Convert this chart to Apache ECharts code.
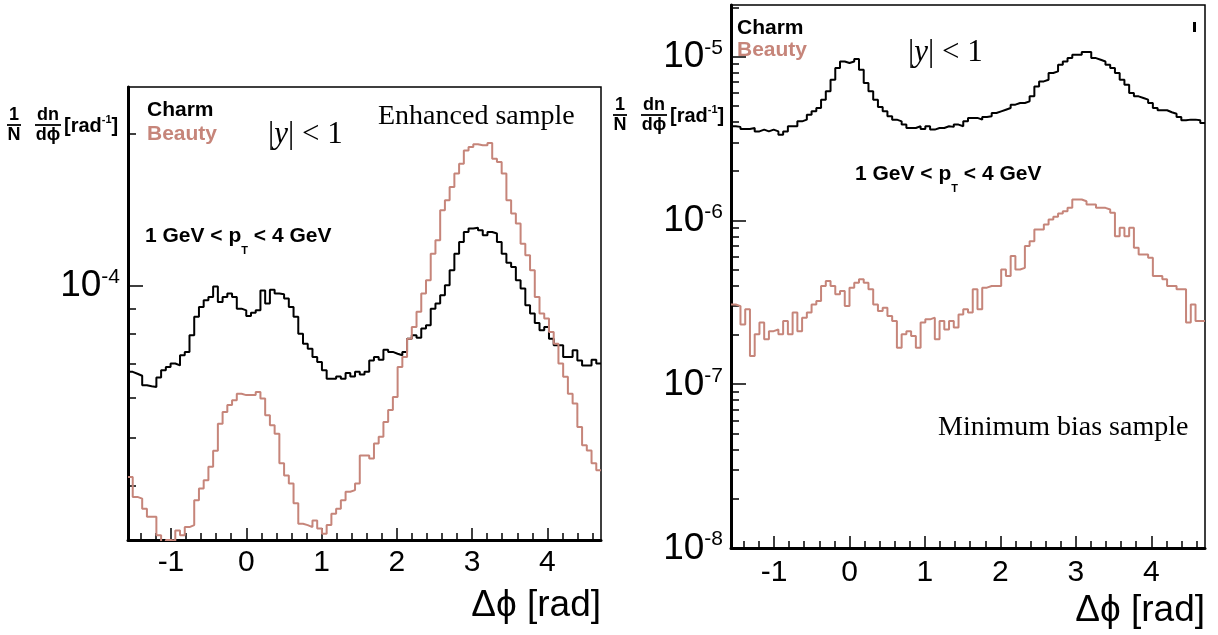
<!DOCTYPE html>
<html><head><meta charset="utf-8">
<script src="https://cdn.jsdelivr.net/npm/echarts@6/dist/echarts.min.js"></script>
<style>html,body{margin:0;padding:0;background:#fff}#c{width:1218px;height:635px}</style>
</head><body><div id="c"></div>
<script>
// ---------- data ----------
const PHI_MIN = -Math.PI / 2;
const PHI_MAX = 3 * Math.PI / 2;
const xTickValues = [-1, 0, 1, 2, 3, 4];
const xMinorTickValues = [-1.4, -1.2, -0.8, -0.6, -0.4, -0.2, 0.2, 0.4, 0.6, 0.8, 1.2, 1.4, 1.6, 1.8, 2.2, 2.4, 2.6, 2.8, 3.2, 3.4, 3.6, 3.8, 4.2, 4.4, 4.6];

const enhancedYMin = 3.13e-5, enhancedYMax = 2.47e-4;
const enhancedYLabels = [1e-4];
const enhancedYMinorTicks = [4e-5, 5e-5, 6e-5, 7e-5, 8e-5, 9e-5, 2e-4];

const mbYMin = 1e-8, mbYMax = 2.07e-5;
const mbYLabels = [1e-8, 1e-7, 1e-6, 1e-5];
const mbYMinorTicks = [2e-8, 3e-8, 4e-8, 5e-8, 6e-8, 7e-8, 8e-8, 9e-8,
  2e-7, 3e-7, 4e-7, 5e-7, 6e-7, 7e-7, 8e-7, 9e-7,
  2e-6, 3e-6, 4e-6, 5e-6, 6e-6, 7e-6, 8e-6, 9e-6, 2e-5];

// Enhanced sample (100 bins over [-pi/2, 3pi/2])
const enhancedCharm = [
  6.74e-5, 6.68e-5, 6.62e-5, 6.34e-5, 6.31e-5, 6.29e-5, 6.57e-5, 6.79e-5, 6.89e-5, 7.00e-5,
  6.94e-5, 7.27e-5, 7.38e-5, 7.96e-5, 8.66e-5, 9.06e-5, 9.34e-5, 9.48e-5, 9.95e-5, 9.27e-5,
  9.48e-5, 9.63e-5, 9.48e-5, 8.99e-5, 8.92e-5, 8.69e-5, 8.82e-5, 8.92e-5, 9.77e-5, 9.20e-5,
  9.80e-5, 9.63e-5, 9.60e-5, 9.41e-5, 9.06e-5, 8.66e-5, 8.02e-5, 7.66e-5, 7.49e-5, 7.21e-5,
  7.05e-5, 6.79e-5, 6.53e-5, 6.53e-5, 6.60e-5, 6.53e-5, 6.70e-5, 6.60e-5, 6.74e-5, 6.66e-5,
  6.74e-5, 7.10e-5, 7.21e-5, 7.12e-5, 7.45e-5, 7.38e-5, 7.32e-5, 7.27e-5, 7.38e-5, 7.84e-5,
  7.96e-5, 7.87e-5, 8.21e-5, 8.33e-5, 8.99e-5, 9.20e-5, 9.56e-5, 1.000e-4, 1.071e-4, 1.155e-4,
  1.218e-4, 1.275e-4, 1.295e-4, 1.300e-4, 1.285e-4, 1.256e-4, 1.275e-4, 1.266e-4, 1.218e-4, 1.155e-4,
  1.108e-4, 1.087e-4, 1.023e-4, 9.85e-5, 9.13e-5, 8.79e-5, 8.42e-5, 8.15e-5, 8.27e-5, 7.84e-5,
  7.61e-5, 7.61e-5, 7.21e-5, 7.21e-5, 7.44e-5, 7.10e-5, 6.94e-5, 6.94e-5, 7.12e-5, 7.00e-5
];
const enhancedBeauty = [
  4.17e-5, 3.81e-5, 3.78e-5, 3.61e-5, 3.48e-5, 3.48e-5, 3.20e-5, 3.10e-5, 3.13e-5, 3.12e-5,
  3.27e-5, 3.20e-5, 3.32e-5, 3.35e-5, 3.75e-5, 3.96e-5, 4.11e-5, 4.37e-5, 4.70e-5, 5.32e-5,
  5.61e-5, 5.79e-5, 5.92e-5, 6.10e-5, 6.06e-5, 6.06e-5, 6.06e-5, 6.15e-5, 5.97e-5, 5.53e-5,
  5.28e-5, 5.08e-5, 4.44e-5, 4.20e-5, 4.05e-5, 3.70e-5, 3.37e-5, 3.35e-5, 3.32e-5, 3.42e-5,
  3.30e-5, 3.22e-5, 3.35e-5, 3.53e-5, 3.61e-5, 3.75e-5, 3.90e-5, 3.93e-5, 4.05e-5, 4.60e-5,
  4.60e-5, 4.54e-5, 4.86e-5, 5.01e-5, 5.36e-5, 5.66e-5, 6.01e-5, 6.89e-5, 7.21e-5, 7.84e-5,
  8.27e-5, 8.86e-5, 9.63e-5, 1.023e-4, 1.155e-4, 1.228e-4, 1.408e-4, 1.474e-4, 1.566e-4, 1.664e-4,
  1.741e-4, 1.850e-4, 1.879e-4, 1.902e-4, 1.893e-4, 1.893e-4, 1.913e-4, 1.781e-4, 1.754e-4, 1.664e-4,
  1.474e-4, 1.387e-4, 1.325e-4, 1.209e-4, 1.147e-4, 1.071e-4, 9.48e-5, 8.79e-5, 8.59e-5, 8.08e-5,
  7.66e-5, 7.00e-5, 6.59e-5, 6.10e-5, 5.83e-5, 5.24e-5, 4.82e-5, 4.71e-5, 4.44e-5, 4.30e-5
];

// Minimum bias sample
const mbCharm = [
  3.76e-6, 3.73e-6, 3.62e-6, 3.62e-6, 3.67e-6, 3.50e-6, 3.59e-6, 3.50e-6, 3.59e-6, 3.50e-6,
  3.34e-6, 3.50e-6, 3.76e-6, 3.76e-6, 4.03e-6, 4.13e-6, 4.43e-6, 4.64e-6, 4.86e-6, 5.47e-6,
  6.15e-6, 7.24e-6, 8.53e-6, 9.36e-6, 9.15e-6, 9.36e-6, 9.68e-6, 8.33e-6, 6.91e-6, 6.15e-6,
  5.47e-6, 4.93e-6, 4.64e-6, 4.33e-6, 4.13e-6, 4.03e-6, 3.85e-6, 3.67e-6, 3.67e-6, 3.76e-6,
  3.62e-6, 3.76e-6, 3.59e-6, 3.67e-6, 3.67e-6, 3.76e-6, 3.73e-6, 3.85e-6, 3.76e-6, 4.03e-6,
  4.23e-6, 4.23e-6, 4.13e-6, 4.29e-6, 4.33e-6, 4.53e-6, 4.64e-6, 4.75e-6, 4.86e-6, 5.10e-6,
  5.22e-6, 5.22e-6, 5.34e-6, 5.73e-6, 6.59e-6, 7.07e-6, 7.24e-6, 7.95e-6, 8.14e-6, 8.94e-6,
  9.36e-6, 9.81e-6, 1.028e-5, 1.028e-5, 1.068e-5, 1.068e-5, 9.81e-6, 9.59e-6, 9.36e-6, 8.94e-6,
  8.53e-6, 7.95e-6, 7.24e-6, 6.75e-6, 6.00e-6, 5.73e-6, 5.60e-6, 5.47e-6, 5.22e-6, 4.86e-6,
  4.71e-6, 4.71e-6, 4.58e-6, 4.49e-6, 4.29e-6, 4.09e-6, 4.13e-6, 4.13e-6, 4.09e-6, 3.94e-6
];
const mbBeauty = [
  3.07e-7, 3.00e-7, 2.32e-7, 2.87e-7, 1.49e-7, 2.02e-7, 2.38e-7, 1.88e-7, 2.11e-7, 2.16e-7,
  2.02e-7, 2.43e-7, 2.02e-7, 2.74e-7, 2.11e-7, 2.55e-7, 2.74e-7, 3.07e-7, 3.22e-7, 3.98e-7,
  4.27e-7, 3.98e-7, 3.54e-7, 3.71e-7, 3.00e-7, 3.89e-7, 4.17e-7, 4.37e-7, 4.17e-7, 3.80e-7,
  3.07e-7, 2.80e-7, 2.93e-7, 2.61e-7, 2.43e-7, 1.67e-7, 2.02e-7, 2.11e-7, 1.97e-7, 1.67e-7,
  2.38e-7, 2.49e-7, 2.55e-7, 1.88e-7, 2.43e-7, 2.16e-7, 2.43e-7, 2.22e-7, 2.67e-7, 2.87e-7,
  2.74e-7, 3.80e-7, 2.87e-7, 3.89e-7, 3.98e-7, 3.98e-7, 3.98e-7, 5.02e-7, 4.58e-7, 6.06e-7,
  5.02e-7, 5.14e-7, 6.98e-7, 7.48e-7, 8.81e-7, 8.81e-7, 9.45e-7, 1.014e-6, 1.053e-6, 1.103e-6,
  1.140e-6, 1.195e-6, 1.343e-6, 1.343e-6, 1.312e-6, 1.252e-6, 1.252e-6, 1.195e-6, 1.195e-6, 1.167e-6,
  1.114e-6, 8.02e-7, 9.02e-7, 8.02e-7, 9.02e-7, 6.81e-7, 6.20e-7, 6.20e-7, 5.92e-7, 4.58e-7,
  4.58e-7, 4.37e-7, 3.98e-7, 3.98e-7, 3.80e-7, 3.80e-7, 2.38e-7, 3.07e-7, 2.43e-7, 2.43e-7
];

// ---------- styling ----------
const CHARM_COLOR = '#000000';
const BEAUTY_COLOR = '#c6857a';
const SANS = '"Liberation Sans", Arial, Helvetica, sans-serif';
const SERIF = '"Liberation Serif", "DejaVu Serif", serif';

function histData(vals) {
  const w = (PHI_MAX - PHI_MIN) / vals.length;
  const d = vals.map((v, i) => [PHI_MIN + i * w, v]);
  d.push([PHI_MAX, vals[vals.length - 1]]);
  return d;
}

function expLabel(v) {
  const e = Math.round(Math.log10(v));
  return '{b|10}{s|' + e + '}';
}
const expRich = {
  b: { fontSize: 37, fontFamily: SANS, color: '#000', verticalAlign: 'bottom', lineHeight: 38 },
  s: { fontSize: 21, fontFamily: SANS, color: '#000', verticalAlign: 'top', lineHeight: 21 }
};

function makeAxes(g, yMin, yMax, yLabels, yMinor, labelMargin) {
  const xAxes = [
    {
      gridIndex: g, type: 'value', min: PHI_MIN, max: PHI_MAX, position: 'bottom',
      axisLine: { show: true, onZero: false, lineStyle: { color: '#000', width: 3 } },
      axisTick: { show: true, inside: true, length: 12, customValues: xTickValues, lineStyle: { color: '#000', width: 1.5 } },
      axisLabel: { show: true, customValues: xTickValues, fontSize: 30, fontFamily: SANS, color: '#000', margin: labelMargin },
      splitLine: { show: false }
    },
    {
      gridIndex: g, type: 'value', min: PHI_MIN, max: PHI_MAX, position: 'bottom', offset: 0,
      axisLine: { show: false, onZero: false },
      axisTick: { show: true, inside: true, length: 7, customValues: xMinorTickValues, lineStyle: { color: '#000', width: 1.5 } },
      axisLabel: { show: false },
      splitLine: { show: false }
    }
  ];
  const yAxes = [
    {
      gridIndex: g, type: 'log', logBase: 10, min: yMin, max: yMax, position: 'left',
      axisLine: { show: true, onZero: false, lineStyle: { color: '#000', width: 3 } },
      axisTick: { show: true, inside: true, length: 15, customValues: yLabels, lineStyle: { color: '#000', width: 1.5 } },
      axisLabel: { show: true, customValues: yLabels, formatter: expLabel, rich: expRich, margin: 8 },
      splitLine: { show: false }
    },
    {
      gridIndex: g, type: 'log', logBase: 10, min: yMin, max: yMax, position: 'left', offset: 0,
      axisLine: { show: false, onZero: false },
      axisTick: { show: true, inside: true, length: 8, customValues: yMinor, lineStyle: { color: '#000', width: 1.5 } },
      axisLabel: { show: false },
      splitLine: { show: false }
    }
  ];
  return { xAxes, yAxes };
}

const left = makeAxes(0, enhancedYMin, enhancedYMax, enhancedYLabels, enhancedYMinorTicks, 8);
const right = makeAxes(1, mbYMin, mbYMax, mbYLabels, mbYMinorTicks, 10);

function histSeries(name, vals, color, xi, yi) {
  return {
    name, type: 'line', step: 'end', data: histData(vals), xAxisIndex: xi, yAxisIndex: yi,
    showSymbol: false, symbol: 'none', clip: true, silent: true,
    lineStyle: { color, width: 2 }, itemStyle: { color }
  };
}

function yTitle(x0, yc) {
  const f = 'bold 18px ' + SANS;
  return {
    type: 'group', silent: true, children: [
      { type: 'text', style: { text: '1', x: x0 + 7, y: yc - 10, font: f, fill: '#000', align: 'center', verticalAlign: 'middle' } },
      { type: 'line', shape: { x1: x0, y1: yc, x2: x0 + 14, y2: yc }, style: { stroke: '#000', lineWidth: 1.8 } },
      { type: 'text', style: { text: 'N', x: x0 + 7, y: yc + 10, font: f, fill: '#000', align: 'center', verticalAlign: 'middle' } },
      { type: 'text', style: { text: 'dn', x: x0 + 41, y: yc - 10, font: f, fill: '#000', align: 'center', verticalAlign: 'middle' } },
      { type: 'line', shape: { x1: x0 + 28, y1: yc, x2: x0 + 54, y2: yc }, style: { stroke: '#000', lineWidth: 1.8 } },
      { type: 'text', style: { text: 'd\u03d5', x: x0 + 41, y: yc + 10, font: f, fill: '#000', align: 'center', verticalAlign: 'middle' } },
      { type: 'text', style: {
          text: '{a|[rad}{s|-1}{a|]}', x: x0 + 57, y: yc, verticalAlign: 'middle',
          rich: {
            a: { fontSize: 20, fontWeight: 'bold', fontFamily: SANS, color: '#000', verticalAlign: 'bottom', lineHeight: 22 },
            s: { fontSize: 11, fontWeight: 'bold', fontFamily: SANS, color: '#000', verticalAlign: 'top', lineHeight: 11 }
          } } }
    ]
  };
}

function txt(text, x, y, font, fill, align) {
  return { type: 'text', silent: true, style: { text, x, y, font, fill, align: align || 'left', verticalAlign: 'middle' } };
}
function ptLabel(x, y) {
  return { type: 'text', silent: true, style: {
    text: '{a|1 GeV < p}{t|T}{a| < 4 GeV}', x, y, verticalAlign: 'middle',
    rich: {
      a: { fontSize: 21, fontWeight: 'bold', fontFamily: SANS, color: '#000', verticalAlign: 'top', lineHeight: 30 },
      t: { fontSize: 11, fontWeight: 'bold', fontFamily: SANS, color: '#000', verticalAlign: 'bottom', lineHeight: 12 }
    } } };
}
function rapLabel(x, y) {
  return { type: 'text', silent: true, style: {
    text: '{n||}{i|y}{n|| < 1}', x, y, verticalAlign: 'middle',
    rich: {
      n: { fontSize: 31, fontFamily: SERIF, color: '#000' },
      i: { fontSize: 31, fontFamily: SERIF, fontStyle: 'italic', color: '#000' }
    } } };
}

const option = {
  animation: false,
  backgroundColor: '#ffffff',
  grid: [
    { left: 128, top: 87, width: 473, height: 453, show: true, borderColor: '#000', borderWidth: 1.5, backgroundColor: 'transparent', containLabel: false, outerBoundsMode: 'none' },
    { left: 731, top: 5, width: 474, height: 543, show: true, borderColor: '#000', borderWidth: 1.5, backgroundColor: 'transparent', containLabel: false, outerBoundsMode: 'none' }
  ],
  xAxis: [...left.xAxes, ...right.xAxes],
  yAxis: [...left.yAxes, ...right.yAxes],
  series: [
    histSeries('Charm', enhancedCharm, CHARM_COLOR, 0, 0),
    histSeries('Beauty', enhancedBeauty, BEAUTY_COLOR, 0, 0),
    histSeries('Charm', mbCharm, CHARM_COLOR, 2, 2),
    histSeries('Beauty', mbBeauty, BEAUTY_COLOR, 2, 2)
  ],
  graphic: [
    yTitle(7, 125),
    yTitle(613, 115),
    txt('Charm', 147, 110, 'bold 21px ' + SANS, CHARM_COLOR),
    txt('Beauty', 147, 134, 'bold 21px ' + SANS, BEAUTY_COLOR),
    rapLabel(268, 135),
    txt('Enhanced sample', 378, 117, '28px ' + SERIF, '#000'),
    ptLabel(145, 241),
    txt('Charm', 737, 28, 'bold 21px ' + SANS, CHARM_COLOR),
    txt('Beauty', 737, 50, 'bold 21px ' + SANS, BEAUTY_COLOR),
    rapLabel(908, 53),
    ptLabel(855, 179),
    txt('Minimum bias sample', 938, 428, '28px ' + SERIF, '#000'),
    txt('\u0394\u03d5 [rad]', 601, 606, '37px ' + SANS, '#000', 'right'),
    txt('\u0394\u03d5 [rad]', 1205, 611, '37px ' + SANS, '#000', 'right'),
    { type: 'rect', silent: true, shape: { x: 1193, y: 22, width: 3, height: 10 }, style: { fill: '#000' } }
  ]
};

const chart = echarts.init(document.getElementById('c'), null, { renderer: 'canvas' });
chart.setOption(option);
</script>
</body></html>
